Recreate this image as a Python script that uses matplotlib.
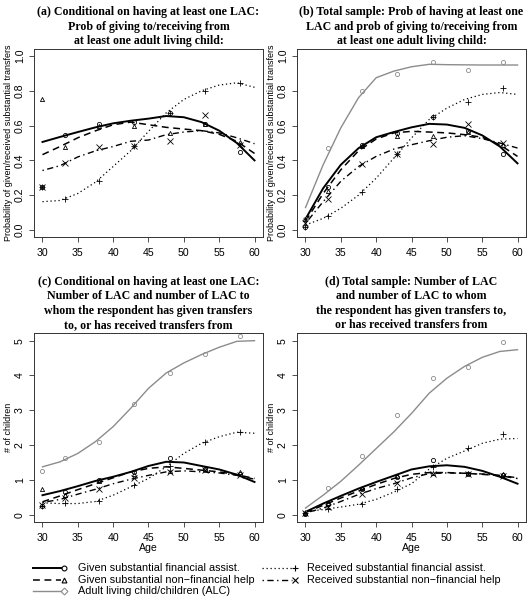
import numpy as np
import matplotlib
matplotlib.use("Agg")
import matplotlib.pyplot as plt

# ages where the fitted curves were read, and ages of the observed points
ages_fit = [30, 32.5, 35, 37.5, 40, 42.5, 45, 47.5, 50, 52.5, 55, 57.5, 60]
ages_obs = [30, 33.2, 38, 43, 48, 53, 58]

# panel (a): conditional probabilities
a_gf_fit = [0.506, 0.535, 0.563, 0.59, 0.613, 0.628, 0.64, 0.655, 0.648, 0.62, 0.571, 0.50, 0.40]
a_gn_fit = [0.433, 0.48, 0.53, 0.57, 0.605, 0.62, 0.605, 0.59, 0.58, 0.571, 0.55, 0.51, 0.44]
a_rf_fit = [0.163, 0.17, 0.21, 0.275, 0.365, 0.456, 0.567, 0.673, 0.75, 0.80, 0.833, 0.846, 0.82]
a_rn_fit = [0.342, 0.37, 0.42, 0.455, 0.48, 0.51, 0.517, 0.548, 0.563, 0.571, 0.558, 0.53, 0.496]
a_gf_obs = [0.25, 0.544, 0.61, 0.62, 0.673, 0.61, 0.45]
a_gn_obs = [0.75, 0.475, 0.596, 0.60, 0.558, 0.61, 0.506]
a_rf_obs = [0.25, 0.18, 0.283, 0.485, 0.67, 0.80, 0.846]
a_rn_obs = [0.25, 0.385, 0.475, 0.48, 0.513, 0.663, 0.49]

# panel (b): total sample probabilities
b_alc_fit = [0.129, 0.375, 0.587, 0.76, 0.875, 0.913, 0.938, 0.952, 0.95, 0.949, 0.948, 0.948, 0.948]
b_gf_fit = [0.063, 0.24, 0.375, 0.47, 0.533, 0.563, 0.59, 0.61, 0.606, 0.587, 0.544, 0.48, 0.383]
b_gn_fit = [0.05, 0.21, 0.346, 0.455, 0.523, 0.558, 0.567, 0.563, 0.558, 0.548, 0.533, 0.49, 0.423]
b_rf_fit = [0.029, 0.067, 0.125, 0.20, 0.298, 0.413, 0.529, 0.635, 0.70, 0.75, 0.779, 0.79, 0.779]
b_rn_fit = [0.038, 0.163, 0.28, 0.365, 0.423, 0.465, 0.49, 0.513, 0.533, 0.542, 0.525, 0.50, 0.471]
b_alc_obs = [0.063, 0.47, 0.80, 0.898, 0.965, 0.92, 0.967]
b_gf_obs = [0.02, 0.25, 0.49, 0.557, 0.65, 0.567, 0.437]
b_gn_obs = [0.063, 0.227, 0.48, 0.538, 0.542, 0.563, 0.49]
b_rf_obs = [0.015, 0.083, 0.22, 0.437, 0.648, 0.737, 0.817]
b_rn_obs = [0.04, 0.18, 0.38, 0.437, 0.494, 0.61, 0.50]

# panel (c): conditional numbers of children
c_alc_fit = [1.375, 1.52, 1.76, 2.1, 2.53, 3.06, 3.63, 4.07, 4.36, 4.6, 4.81, 4.98, 5.0]
c_gf_fit = [0.56, 0.68, 0.82, 0.97, 1.09, 1.23, 1.40, 1.52, 1.50, 1.40, 1.30, 1.15, 0.94]
c_gn_fit = [0.37, 0.54, 0.72, 0.89, 1.06, 1.23, 1.33, 1.375, 1.33, 1.28, 1.23, 1.15, 1.04]
c_rf_fit = [0.34, 0.32, 0.32, 0.38, 0.56, 0.80, 1.04, 1.375, 1.76, 2.05, 2.24, 2.37, 2.34]
c_rn_fit = [0.35, 0.44, 0.59, 0.73, 0.89, 1.02, 1.13, 1.23, 1.26, 1.23, 1.2, 1.13, 1.02]
c_alc_obs = [1.26, 1.63, 2.1, 3.19, 4.07, 4.62, 5.14]
c_gf_obs = [0.24, 0.65, 0.99, 1.23, 1.62, 1.31, 1.18]
c_gn_obs = [0.75, 0.58, 0.97, 1.18, 1.26, 1.31, 1.23]
c_rf_obs = [0.25, 0.35, 0.39, 0.85, 1.40, 2.08, 2.38]
c_rn_obs = [0.27, 0.48, 0.75, 1.04, 1.23, 1.28, 1.15]

# panel (d): total sample numbers of children
d_alc_fit = [0.19, 0.56, 0.96, 1.42, 1.9, 2.38, 2.91, 3.49, 3.92, 4.26, 4.52, 4.69, 4.74]
d_gf_fit = [0.08, 0.32, 0.54, 0.75, 0.94, 1.12, 1.30, 1.39, 1.42, 1.375, 1.26, 1.09, 0.89]
d_gn_fit = [0.06, 0.27, 0.48, 0.68, 0.87, 1.04, 1.16, 1.21, 1.21, 1.19, 1.16, 1.12, 1.04]
d_rf_fit = [0.08, 0.15, 0.22, 0.30, 0.44, 0.65, 0.89, 1.31, 1.62, 1.83, 2.05, 2.17, 2.19]
d_rn_fit = [0.05, 0.19, 0.38, 0.58, 0.75, 0.89, 1.06, 1.18, 1.2, 1.19, 1.17, 1.13, 1.06]
d_alc_obs = [0.05, 0.78, 1.68, 2.87, 3.94, 4.24, 4.96]
d_gf_obs = [0.03, 0.32, 0.75, 1.09, 1.57, 1.18, 1.15]
d_gn_obs = [0.05, 0.35, 0.78, 1.12, 1.20, 1.21, 1.16]
d_rf_obs = [0.05, 0.15, 0.32, 0.75, 1.375, 1.92, 2.31]
d_rn_obs = [0.04, 0.22, 0.60, 0.92, 1.18, 1.18, 1.12]

titles = [
    "(a) Conditional on having at least one LAC:\nProb of giving to/receiving from\nat least one adult living child:",
    "(b) Total sample: Prob of having at least one\nLAC and prob of giving to/receiving from\nat least one adult living child:",
    "(c) Conditional on having at least one LAC:\nNumber of LAC and number of LAC to\nwhom the respondent has given transfers\nto, or has received transfers from",
    "(d) Total sample: Number of LAC\nand number of LAC to whom\nthe respondent has given transfers to,\nor has received transfers from",
]
legend_labels = [
    "Given substantial financial assist.",
    "Given substantial non\u2212financial help",
    "Adult living child/children (ALC)",
    "Received substantial financial assist.",
    "Received substantial non\u2212financial help",
]

GRAY = "#8c8c8c"
SANS = "Liberation Sans"
SERIF = "Liberation Serif"
TICK_FS = 7.6

# style per series: linestyle, linewidth, marker, color
st = {
    "gf": ("-", 1.4, "o", "black"),
    "gn": ((0, (4.5, 3)), 1.1, "^", "black"),
    "rf": ((0, (1, 2.2)), 0.9, "+", "black"),
    "rn": ((0, (1, 2.5, 4.5, 2.5)), 1.0, "x", "black"),
    "alc": ("-", 1.0, "o", GRAY),
}

W, H = 530, 601
fig = plt.figure(figsize=(W / 100, H / 100), dpi=100)


def px_axes(left, top, right, bottom):
    return fig.add_axes([left / W, 1 - bottom / H, (right - left) / W, (bottom - top) / H])


def draw_panel(ax, series, ylim, yticks, yticklabels, ylabel, title, xlabel):
    for key, fit, obs in series:
        ls, lw, mk, col = st[key]
        ax.plot(ages_fit, fit, linestyle=ls, linewidth=lw, color=col, zorder=3)
        ms = 4 if mk in "+x" else 3
        ax.plot(ages_obs, obs, linestyle="none", marker=mk, markersize=ms,
                markerfacecolor="none", markeredgecolor=col, markeredgewidth=0.6, zorder=4)
    ax.set_xlim(28.8, 61.2)
    ax.set_ylim(*ylim)
    ax.set_xticks([30, 35, 40, 45, 50, 55, 60])
    ax.set_yticks(yticks)
    ax.set_yticklabels(yticklabels, rotation=90, va="center", family=SANS, fontsize=TICK_FS)
    for lab in ax.get_xticklabels():
        lab.set_family(SANS)
        lab.set_fontsize(TICK_FS)
    ax.tick_params(length=3.6, width=0.6, color="#333333")
    ax.tick_params(axis="x", pad=4.5)
    ax.tick_params(axis="y", pad=3)
    ax.set_ylabel(ylabel, family=SANS, fontsize=6.5, labelpad=1)
    if xlabel:
        ax.set_xlabel(xlabel, family=SANS, fontsize=TICK_FS, labelpad=0)
    for sp in ax.spines.values():
        sp.set_linewidth(0.7)
        sp.set_color("#333333")
    ax.set_title(title, family=SERIF, fontweight="bold", fontsize=8.6,
                 linespacing=1.26, pad=3.5)


prob_ticks = [0.0, 0.2, 0.4, 0.6, 0.8, 1.0]
prob_labels = ["0.0", "0.2", "0.4", "0.6", "0.8", "1.0"]
num_ticks = [0, 1, 2, 3, 4, 5]
num_labels = ["0", "1", "2", "3", "4", "5"]
ylab_p = "Probability of given/received substantial transfers"
ylab_n = "# of children"

ax_a = px_axes(34, 49, 263, 237)
draw_panel(ax_a, [("gf", a_gf_fit, a_gf_obs), ("gn", a_gn_fit, a_gn_obs),
                  ("rf", a_rf_fit, a_rf_obs), ("rn", a_rn_fit, a_rn_obs)],
           (-0.04, 1.04), prob_ticks, prob_labels, ylab_p, titles[0], None)

ax_b = px_axes(297, 49, 526, 237)
draw_panel(ax_b, [("alc", b_alc_fit, b_alc_obs), ("gf", b_gf_fit, b_gf_obs),
                  ("gn", b_gn_fit, b_gn_obs), ("rf", b_rf_fit, b_rf_obs),
                  ("rn", b_rn_fit, b_rn_obs)],
           (-0.04, 1.04), prob_ticks, prob_labels, ylab_p, titles[1], None)

ax_c = px_axes(34, 333, 263, 522)
draw_panel(ax_c, [("alc", c_alc_fit, c_alc_obs), ("gf", c_gf_fit, c_gf_obs),
                  ("gn", c_gn_fit, c_gn_obs), ("rf", c_rf_fit, c_rf_obs),
                  ("rn", c_rn_fit, c_rn_obs)],
           (-0.21, 5.22), num_ticks, num_labels, ylab_n, titles[2], "Age")

ax_d = px_axes(297, 333, 526, 522)
draw_panel(ax_d, [("alc", d_alc_fit, d_alc_obs), ("gf", d_gf_fit, d_gf_obs),
                  ("gn", d_gn_fit, d_gn_obs), ("rf", d_rf_fit, d_rf_obs),
                  ("rn", d_rn_fit, d_rn_obs)],
           (-0.21, 5.22), num_ticks, num_labels, ylab_n, titles[3], "Age")

# legend drawn in pixel space at the bottom
leg = fig.add_axes([0, 0, 1, 1], facecolor="none")
leg.set_xlim(0, W)
leg.set_ylim(H, 0)
leg.axis("off")
leg_items = [
    ("gf", "o", 33, 64, 78, 568),
    ("gn", "^", 33, 64, 78, 580),
    ("alc", "D", 33, 64, 78, 591),
    ("rf", "+", 262, 295, 307, 568),
    ("rn", "x", 262, 295, 307, 580),
]
for (key, mk, x0, x1, xt, y), label in zip(leg_items, legend_labels):
    ls, lw, _, col = st[key]
    leg.plot([x0, x1 - 3], [y, y], linestyle=ls, linewidth=lw, color=col)
    leg.plot([x1], [y], linestyle="none", marker=mk, markersize=4.5 if mk in "+x" else 3.5,
             markerfacecolor="none", markeredgecolor=col, markeredgewidth=0.8)
    leg.text(xt, y, label, va="center", ha="left", family=SANS, fontsize=7.8)

fig.savefig("out.png", dpi=100)
